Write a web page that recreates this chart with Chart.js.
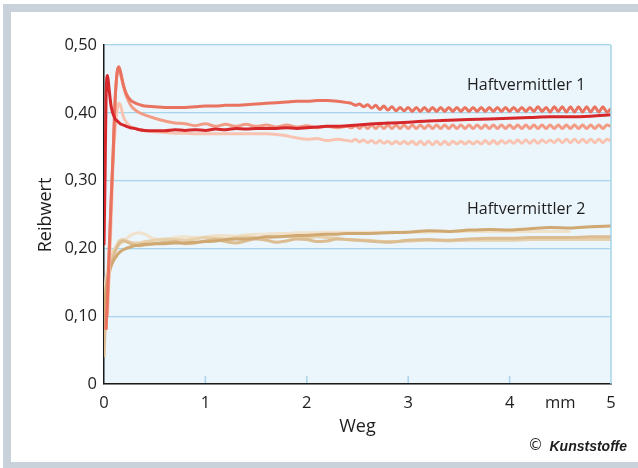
<!DOCTYPE html>
<html>
<head>
<meta charset="utf-8">
<script src="https://cdn.jsdelivr.net/npm/chart.js@4"></script>
<style>
    body { margin: 0; background: #fff; }
    #box { position: relative; width: 638px; height: 468px; overflow: hidden; }
    #rahmen {
        position: absolute; left: 3px; top: 4px; width: 640px; height: 464px;
        box-sizing: border-box;
        border-left: 8px solid #c9d2db; border-top: 8px solid #c9d2db; border-bottom: 6px solid #c9d2db;
    }
    #chart { position: absolute; left: 0; top: 0; }
</style>
</head>
<body>
<div id="box">
    <div id="rahmen"></div>
    <canvas id="chart" width="638" height="468"></canvas>
</div>
<script>
// Weg in mm (Anfang, grobes Ende, feines Ende fuer die welligen Kurven)
var weg = [0, 0.01, 0.02, 0.035, 0.05, 0.07, 0.09, 0.11, 0.13, 0.145, 0.16, 0.19, 0.22, 0.26, 0.3, 0.35, 0.4,
    0.5, 0.6, 0.7, 0.8, 0.9, 1.0, 1.1, 1.2, 1.3, 1.4, 1.5, 1.6, 1.7, 1.8, 1.9, 2.0, 2.1, 2.2, 2.3, 2.4];
var wegEnde = [2.6, 2.8, 3.0, 3.2, 3.4, 3.6, 3.8, 4.0, 4.2, 4.4, 4.6, 4.8, 5.0];
var wegFein = [2.44, 2.48, 2.52, 2.56, 2.6, 2.64, 2.68, 2.72, 2.76, 2.8,
    2.84, 2.88, 2.92, 2.96, 3.0, 3.04, 3.08, 3.12, 3.16, 3.2,
    3.24, 3.28, 3.32, 3.36, 3.4, 3.44, 3.48, 3.52, 3.56, 3.6,
    3.64, 3.68, 3.72, 3.76, 3.8, 3.84, 3.88, 3.92, 3.96, 4.0,
    4.04, 4.08, 4.12, 4.16, 4.2, 4.24, 4.28, 4.32, 4.36, 4.4,
    4.44, 4.48, 4.52, 4.56, 4.6, 4.64, 4.68, 4.72, 4.76, 4.8,
    4.84, 4.88, 4.92, 4.96, 5.0];

var yTicks = [0, 0.1, 0.2, 0.3, 0.4, 0.5];
var xTicks = [0, 1, 2, 3, 4, 4.5, 5];

// Haftvermittler 1 (rot)
var dunkelrotStart = [0.205, 0.30, 0.42, 0.455, 0.435, 0.41, 0.398, 0.391, 0.388, 0.386, 0.384, 0.382, 0.380, 0.378, 0.377, 0.375, 0.374,
    0.3735, 0.3735, 0.375, 0.374, 0.375, 0.374, 0.376, 0.375, 0.377, 0.376, 0.377, 0.377, 0.377, 0.378, 0.377, 0.378, 0.379, 0.380, 0.380, 0.381];
var dunkelrotEnde = [0.383, 0.385, 0.386, 0.388, 0.389, 0.390, 0.391, 0.392, 0.393, 0.394, 0.394, 0.395, 0.397];

var lachsStart = [null, null, 0.08, 0.13, 0.19, 0.27, 0.34, 0.42, 0.46, 0.468, 0.462, 0.442, 0.428, 0.419, 0.415, 0.412, 0.410,
    0.409, 0.408, 0.408, 0.408, 0.409, 0.410, 0.410, 0.411, 0.411, 0.412, 0.413, 0.414, 0.415, 0.416, 0.417, 0.417, 0.418, 0.418, 0.417, 0.415];
var lachsFein = [0.414, 0.411, 0.413, 0.409, 0.412, 0.407, 0.411, 0.405, 0.410, 0.404,
    0.409, 0.403, 0.408, 0.403, 0.408, 0.402, 0.408, 0.402, 0.408, 0.402,
    0.408, 0.402, 0.408, 0.402, 0.408, 0.402, 0.408, 0.402, 0.408, 0.402,
    0.408, 0.402, 0.408, 0.402, 0.408, 0.402, 0.408, 0.402, 0.408, 0.402,
    0.408, 0.402, 0.408, 0.402, 0.408, 0.402, 0.409, 0.402, 0.408, 0.401,
    0.409, 0.402, 0.409, 0.401, 0.409, 0.401, 0.409, 0.401, 0.409, 0.401,
    0.409, 0.401, 0.409, 0.401, 0.406];

var rosaStart = [null, null, 0.08, 0.13, 0.19, 0.27, 0.34, 0.42, 0.46, 0.467, 0.46, 0.44, 0.425, 0.412, 0.405, 0.400, 0.397,
    0.392, 0.388, 0.385, 0.384, 0.381, 0.384, 0.380, 0.383, 0.380, 0.383, 0.380, 0.382, 0.379, 0.382, 0.379, 0.381, 0.378, 0.380, 0.378, 0.380];
var rosaFein = [0.378, 0.381, 0.377, 0.382, 0.377, 0.382, 0.377, 0.382, 0.377, 0.382,
    0.377, 0.382, 0.377, 0.382, 0.377, 0.382, 0.377, 0.382, 0.377, 0.382,
    0.377, 0.382, 0.377, 0.382, 0.377, 0.382, 0.377, 0.382, 0.377, 0.382,
    0.377, 0.382, 0.377, 0.382, 0.377, 0.382, 0.377, 0.382, 0.377, 0.382,
    0.377, 0.382, 0.377, 0.382, 0.377, 0.382, 0.377, 0.382, 0.377, 0.382,
    0.377, 0.382, 0.377, 0.382, 0.377, 0.382, 0.377, 0.382, 0.377, 0.382,
    0.377, 0.382, 0.377, 0.382, 0.380];

var hellrosaStart = [null, null, null, 0.10, 0.16, 0.24, 0.33, 0.375, 0.405, 0.414, 0.412, 0.395, 0.386, 0.380, 0.377, 0.375, 0.3735,
    0.372, 0.371, 0.370, 0.370, 0.369, 0.369, 0.369, 0.369, 0.369, 0.369, 0.369, 0.369, 0.368, 0.366, 0.363, 0.361, 0.362, 0.359, 0.361, 0.359];
var hellrosaFein = [0.358, 0.361, 0.357, 0.360, 0.356, 0.359, 0.355, 0.359, 0.355, 0.358,
    0.354, 0.358, 0.354, 0.358, 0.354, 0.358, 0.353, 0.358, 0.353, 0.358,
    0.353, 0.358, 0.353, 0.358, 0.353, 0.358, 0.354, 0.358, 0.354, 0.358,
    0.354, 0.358, 0.354, 0.359, 0.354, 0.359, 0.354, 0.359, 0.355, 0.359,
    0.355, 0.360, 0.355, 0.360, 0.355, 0.360, 0.355, 0.360, 0.356, 0.360,
    0.356, 0.361, 0.356, 0.361, 0.356, 0.361, 0.356, 0.361, 0.356, 0.361,
    0.356, 0.361, 0.356, 0.361, 0.358];

// Haftvermittler 2 (braun)
var braunStart = [0.085, 0.12, 0.14, 0.155, 0.165, 0.174, 0.181, 0.186, 0.190, 0.193, 0.195, 0.198, 0.200, 0.202, 0.204, 0.205, 0.206,
    0.207, 0.207, 0.208, 0.208, 0.209, 0.210, 0.211, 0.213, 0.214, 0.214, 0.215, 0.217, 0.217, 0.218, 0.219, 0.219, 0.220, 0.221, 0.221, 0.222];
var braunEnde = [0.222, 0.223, 0.224, 0.226, 0.225, 0.227, 0.228, 0.227, 0.229, 0.231, 0.230, 0.232, 0.233];

var hellbraunStart = [0.04, 0.08, 0.11, 0.14, 0.16, 0.175, 0.186, 0.195, 0.202, 0.206, 0.209, 0.211, 0.210, 0.207, 0.205, 0.204, 0.205,
    0.207, 0.209, 0.210, 0.207, 0.208, 0.211, 0.213, 0.210, 0.208, 0.211, 0.214, 0.212, 0.209, 0.211, 0.214, 0.213, 0.210, 0.211, 0.214, 0.213];
var hellbraunEnde = [0.211, 0.209, 0.212, 0.213, 0.212, 0.214, 0.215, 0.215, 0.216, 0.216, 0.216, 0.217, 0.217];

var sandStart = [0.11, 0.13, 0.145, 0.16, 0.172, 0.183, 0.192, 0.200, 0.206, 0.210, 0.212, 0.213, 0.211, 0.209, 0.208, 0.208, 0.210,
    0.212, 0.214, 0.213, 0.212, 0.214, 0.216, 0.215, 0.214, 0.216, 0.217, 0.216, 0.215, 0.217, 0.218, 0.217, 0.216, 0.217, 0.216, 0.215, 0.213];
var sandEnde = [0.212, 0.210, 0.211, 0.212, 0.211, 0.212, 0.212, 0.212, 0.213, 0.213, 0.213, 0.213, 0.213];

var cremeStart = [0.12, 0.14, 0.155, 0.17, 0.18, 0.19, 0.196, 0.20, 0.203, 0.205, 0.207, 0.21, 0.214, 0.219, 0.222, 0.223, 0.221,
    0.214, 0.213, 0.216, 0.217, 0.216, 0.217, 0.219, 0.219, 0.218, 0.220, 0.221, 0.221, 0.222, 0.222, 0.223, 0.223, 0.223, 0.224, 0.224, 0.224];
var cremeEnde = [0.224, 0.224, 0.224, 0.224, 0.225, 0.225, 0.225, 0.225, 0.225, 0.225, 0.225, null, null];

var SCHRIFT = "'Open Sans', 'Noto Sans', sans-serif";

function punkte(xs, ys) {
    return xs.map(function (x, i) { return { x: x, y: ys[i] }; });
}

function kurve(farbe, start, endeX, ende) {
    return {
        data: punkte(weg, start).concat(punkte(endeX, ende)),
        borderColor: farbe,
        borderWidth: 3,
        pointRadius: 0,
        cubicInterpolationMode: 'monotone',
        fill: false
    };
}

// Hintergrund, rechter Rand, Striche innen, Beschriftungen
var deko = {
    id: 'deko',
    beforeDraw: function (chart) {
        var a = chart.chartArea, ctx = chart.ctx;
        ctx.save();
        ctx.fillStyle = '#ebf5fc';
        ctx.fillRect(a.left, a.top, a.right - a.left, a.bottom - a.top);
        ctx.restore();
    },
    afterDraw: function (chart) {
        var a = chart.chartArea, ctx = chart.ctx, sx = chart.scales.x;
        ctx.save();
        ctx.strokeStyle = '#a6d4e8';
        ctx.lineWidth = 1.5;
        ctx.beginPath();
        ctx.moveTo(a.right, a.top);
        ctx.lineTo(a.right, a.bottom);
        [1, 2, 3, 4].forEach(function (v) {
            var px = sx.getPixelForValue(v);
            ctx.moveTo(px, a.bottom - 1);
            ctx.lineTo(px, a.bottom - 8);
        });
        ctx.stroke();

        ctx.fillStyle = '#1e1e1e';
        ctx.textBaseline = 'middle';
        ctx.textAlign = 'left';
        ctx.font = '16px ' + SCHRIFT;
        ctx.fillText('Haftvermittler 1', 467, 85);
        ctx.fillText('Haftvermittler 2', 467, 209);

        ctx.textAlign = 'center';
        ctx.font = '18px ' + SCHRIFT;
        ctx.fillText('Weg', (a.left + a.right) / 2, 427);
        ctx.translate(46, 215);
        ctx.rotate(-Math.PI / 2);
        ctx.fillText('Reibwert', 0, 0);
        ctx.restore();

        ctx.save();
        ctx.fillStyle = '#1e1e1e';
        ctx.textBaseline = 'middle';
        ctx.textAlign = 'right';
        ctx.font = "italic bold 14px 'Liberation Sans', sans-serif";
        ctx.fillText('Kunststoffe', 627, 447);
        ctx.font = "15px 'DejaVu Sans', sans-serif";
        ctx.fillText('\u00a9', 543, 446);
        ctx.restore();
    }
};

new Chart(document.getElementById('chart'), {
    type: 'line',
    data: {
        datasets: [
            kurve('#d6272a', dunkelrotStart, wegEnde, dunkelrotEnde),
            kurve('#e9735f', lachsStart, wegFein, lachsFein),
            kurve('#f29c86', rosaStart, wegFein, rosaFein),
            kurve('#f8c4b1', hellrosaStart, wegFein, hellrosaFein),
            kurve('#d0a872', braunStart, wegEnde, braunEnde),
            kurve('#dcbd92', hellbraunStart, wegEnde, hellbraunEnde),
            kurve('#e7d0ac', sandStart, wegEnde, sandEnde),
            kurve('#f0e2cb', cremeStart, wegEnde, cremeEnde)
        ]
    },
    options: {
        responsive: false,
        animation: false,
        layout: { padding: { top: 45, right: 27, left: 0, bottom: 0 } },
        plugins: { legend: { display: false }, tooltip: { enabled: false } },
        scales: {
            x: {
                type: 'linear',
                min: 0,
                max: 5,
                afterBuildTicks: function (scale) {
                    scale.ticks = xTicks.map(function (v) { return { value: v }; });
                },
                afterFit: function (scale) { scale.height = 84; },
                grid: { display: false, drawTicks: false },
                border: { display: true, color: '#1a1a1a', width: 1.5 },
                ticks: {
                    padding: 9,
                    color: '#1e1e1e',
                    font: { family: SCHRIFT, size: 16.5 },
                    maxRotation: 0,
                    autoSkip: false,
                    callback: function (v) { return v === 4.5 ? 'mm' : String(v); }
                }
            },
            y: {
                min: 0,
                max: 0.5,
                afterBuildTicks: function (scale) {
                    scale.ticks = yTicks.map(function (v) { return { value: v }; });
                },
                afterFit: function (scale) { scale.width = 104; },
                grid: { color: '#a6d4e8', lineWidth: 1.2, drawTicks: false },
                border: { display: true, color: '#1a1a1a', width: 1.5 },
                ticks: {
                    padding: 7,
                    color: '#1e1e1e',
                    font: { family: SCHRIFT, size: 16.5 },
                    callback: function (v) { return v === 0 ? '0' : v.toFixed(2).replace('.', ','); }
                }
            }
        }
    },
    plugins: [deko]
});
</script>
</body>
</html>
